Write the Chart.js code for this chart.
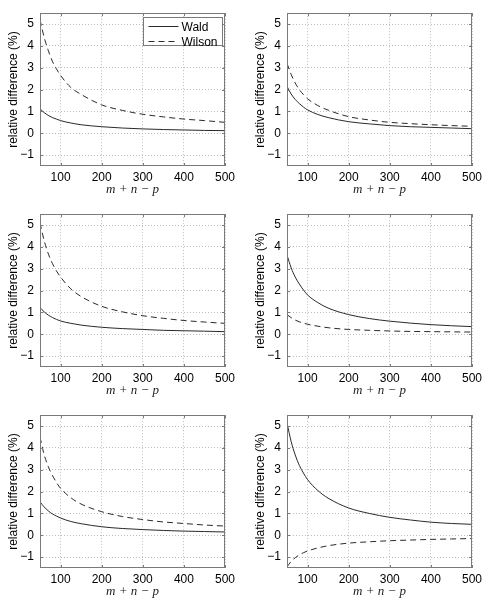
<!DOCTYPE html>
<html>
<head>
<meta charset="utf-8">
<script src="https://cdn.jsdelivr.net/npm/chart.js@4/dist/chart.umd.min.js"></script>
<style>
  html, body { margin: 0; padding: 0; background: #fff; overflow: hidden; }
  .panel { position: absolute; }
</style>
</head>
<body>
<div class="panel" style="left:0;top:0"><canvas id="c1" width="243" height="200"></canvas></div>
<div class="panel" style="left:247px;top:0"><canvas id="c2" width="240" height="200"></canvas></div>
<div class="panel" style="left:0;top:201px"><canvas id="c3" width="243" height="200"></canvas></div>
<div class="panel" style="left:247px;top:201px"><canvas id="c4" width="240" height="200"></canvas></div>
<div class="panel" style="left:0;top:402px"><canvas id="c5" width="243" height="200"></canvas></div>
<div class="panel" style="left:247px;top:402px"><canvas id="c6" width="240" height="200"></canvas></div>
<script>
// m + n - p sample points
const xValues = [50, 60, 70, 80, 90, 100, 125, 150, 200, 250, 300, 350, 400, 450, 500];
const xTicks = [100, 200, 300, 400, 500];
const yTicks = [-1, 0, 1, 2, 3, 4, 5];

// relative difference (%)
const wald1 = [1.12, 0.95, 0.82, 0.72, 0.65, 0.58, 0.47, 0.39, 0.30, 0.24, 0.20, 0.17, 0.15, 0.13, 0.12];
const wilson1 = [5.2, 4.4, 3.8, 3.3, 2.95, 2.65, 2.1, 1.78, 1.3, 1.05, 0.87, 0.75, 0.65, 0.58, 0.5];
const wald2 = [2.15, 1.8, 1.55, 1.36, 1.2, 1.07, 0.86, 0.72, 0.53, 0.43, 0.35, 0.3, 0.27, 0.24, 0.21];
const wilson2 = [3.2, 2.7, 2.3, 2.0, 1.77, 1.58, 1.27, 1.06, 0.76, 0.61, 0.5, 0.44, 0.39, 0.35, 0.32];
const wald3 = [1.22, 1.03, 0.88, 0.77, 0.68, 0.61, 0.5, 0.42, 0.32, 0.26, 0.22, 0.18, 0.16, 0.14, 0.12];
const wilson3 = [5.1, 4.3, 3.7, 3.25, 2.9, 2.62, 2.08, 1.73, 1.28, 1.03, 0.85, 0.73, 0.63, 0.56, 0.5];
const wald4 = [3.63, 3.05, 2.62, 2.3, 2.03, 1.8, 1.45, 1.2, 0.9, 0.72, 0.6, 0.51, 0.44, 0.39, 0.35];
const wilson4 = [0.9, 0.76, 0.65, 0.57, 0.51, 0.46, 0.37, 0.3, 0.22, 0.18, 0.15, 0.13, 0.12, 0.11, 0.1];
const wald5 = [1.53, 1.3, 1.12, 0.98, 0.88, 0.79, 0.63, 0.53, 0.39, 0.31, 0.26, 0.22, 0.19, 0.17, 0.15];
const wilson5 = [4.5, 3.7, 3.15, 2.75, 2.42, 2.15, 1.72, 1.43, 1.08, 0.86, 0.72, 0.61, 0.54, 0.47, 0.42];
const wald6 = [5.15, 4.3, 3.68, 3.2, 2.85, 2.55, 2.05, 1.7, 1.25, 1.0, 0.82, 0.7, 0.6, 0.54, 0.5];
const wilson6 = [-1.45, -1.2, -1.03, -0.9, -0.8, -0.72, -0.58, -0.48, -0.36, -0.3, -0.25, -0.22, -0.19, -0.17, -0.15];

const panels = [
  { id: 'c1', wald: wald1, wilson: wilson1, legend: true, right: 18 },
  { id: 'c2', wald: wald2, wilson: wilson2, right: 15 },
  { id: 'c3', wald: wald3, wilson: wilson3, right: 18 },
  { id: 'c4', wald: wald4, wilson: wilson4, right: 15 },
  { id: 'c5', wald: wald5, wilson: wilson5, right: 18 },
  { id: 'c6', wald: wald6, wilson: wilson6, right: 15 }
];

Chart.defaults.font.family = '"Liberation Sans", Arial, sans-serif';
Chart.defaults.font.size = 12;
Chart.defaults.color = '#000';

const lineColor = '#2a2a2a';

// box around the axes plus small inward ticks, matlab style
const boxPlugin = {
  id: 'box',
  afterDatasetsDraw(chart) {
    const { ctx, chartArea: a, scales } = chart;
    ctx.save();
    ctx.strokeStyle = '#7a7a7a';
    ctx.lineWidth = 1;
    ctx.strokeRect(Math.round(a.left) + 0.5, Math.round(a.top) + 0.5,
      Math.round(a.right - a.left) - 1, Math.round(a.bottom - a.top) - 1);
    ctx.beginPath();
    xTicks.forEach(v => {
      const x = Math.round(scales.x.getPixelForValue(v)) + 0.5;
      ctx.moveTo(x, a.bottom); ctx.lineTo(x, a.bottom - 3);
      ctx.moveTo(x, a.top); ctx.lineTo(x, a.top + 3);
    });
    yTicks.forEach(v => {
      const y = Math.round(scales.y.getPixelForValue(v)) + 0.5;
      ctx.moveTo(a.left, y); ctx.lineTo(a.left + 3, y);
      ctx.moveTo(a.right, y); ctx.lineTo(a.right - 3, y);
    });
    ctx.stroke();
    ctx.restore();
  }
};

// legend box in the upper right corner of the first panel
const boxLegend = {
  id: 'boxLegend',
  afterDraw(chart, args, opts) {
    if (!opts.show) return;
    const { ctx, chartArea: a } = chart;
    const w = 79, h = 28;
    const x0 = Math.round(a.right - 3 - w) + 0.5, y0 = Math.round(a.top + 4) + 0.5;
    ctx.save();
    ctx.fillStyle = '#fff';
    ctx.fillRect(x0, y0, w, h);
    ctx.strokeStyle = '#7a7a7a';
    ctx.lineWidth = 1;
    ctx.strokeRect(x0, y0, w, h);
    chart.data.datasets.forEach((ds, i) => {
      const y = Math.round(y0 + 8 + i * 15) + 0.5;
      ctx.strokeStyle = ds.borderColor;
      ctx.lineWidth = ds.borderWidth;
      ctx.setLineDash(ds.borderDash || []);
      ctx.beginPath();
      ctx.moveTo(x0 + 5, y);
      ctx.lineTo(x0 + 35, y);
      ctx.stroke();
      ctx.setLineDash([]);
      ctx.fillStyle = '#000';
      ctx.font = '12px "Liberation Sans", Arial, sans-serif';
      ctx.textBaseline = 'middle';
      ctx.fillText(ds.label, x0 + 38, y + 1);
    });
    ctx.restore();
  }
};

panels.forEach(p => {
  new Chart(document.getElementById(p.id), {
    type: 'line',
    data: {
      datasets: [
        {
          label: 'Wald',
          data: xValues.map((x, i) => ({ x: x, y: p.wald[i] })),
          borderColor: lineColor, borderWidth: 1, pointRadius: 0,
          cubicInterpolationMode: 'monotone'
        },
        {
          label: 'Wilson',
          data: xValues.map((x, i) => ({ x: x, y: p.wilson[i] })),
          borderColor: lineColor, borderWidth: 1, borderDash: [6, 4], pointRadius: 0,
          cubicInterpolationMode: 'monotone'
        }
      ]
    },
    options: {
      responsive: false,
      animation: false,
      devicePixelRatio: 1,
      layout: { padding: { top: 5, right: p.right, bottom: 0, left: 0 } },
      plugins: {
        legend: { display: false },
        tooltip: { enabled: false },
        boxLegend: { show: !!p.legend }
      },
      scales: {
        x: {
          type: 'linear',
          min: 50, max: 500,
          afterBuildTicks: s => { s.ticks = xTicks.map(v => ({ value: v })); },
          afterFit: s => { s.height = 34; },
          grid: { color: '#bdbdbd', drawTicks: false, tickBorderDash: [1, 2] },
          border: { display: false, dash: [1, 2] },
          ticks: { padding: 4, maxRotation: 0, color: '#000' },
          title: {
            display: true,
            text: 'm + n − p',
            font: { family: '"Liberation Serif", "DejaVu Serif", serif', style: 'italic', size: 13 },
            color: '#222',
            padding: { top: 0, bottom: 3 }
          }
        },
        y: {
          min: -1.5, max: 5.5,
          afterBuildTicks: s => { s.ticks = yTicks.map(v => ({ value: v })); },
          afterFit: s => { s.width = 40; },
          grid: { color: '#bdbdbd', drawTicks: false },
          border: { display: false, dash: [1, 2] },
          ticks: {
            padding: 6,
            color: '#000',
            callback: v => (v < 0 ? '−' + Math.abs(v) : String(v))
          },
          title: {
            display: true,
            text: 'relative difference (%)',
            padding: { top: 6, bottom: 0 },
            color: '#000'
          }
        }
      }
    },
    plugins: [boxPlugin, boxLegend]
  });
});
</script>
</body>
</html>
